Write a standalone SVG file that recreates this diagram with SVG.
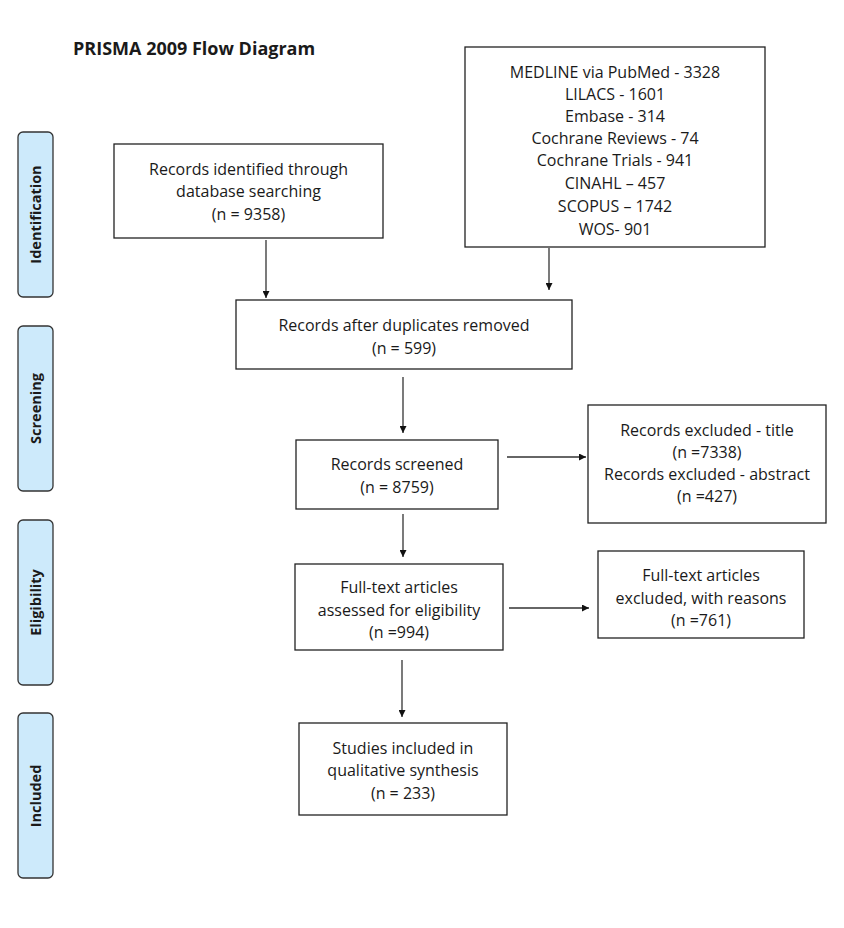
<svg xmlns="http://www.w3.org/2000/svg" width="844" height="928" viewBox="0 0 844 928">
<style>
.box{fill:#fff;stroke:#222;stroke-width:1.3}
.tab{fill:#cdeafb;stroke:#333;stroke-width:1.3}
.t{font-family:"Open Sans","Liberation Sans",sans-serif;font-size:16px;fill:#1a1a1a;text-anchor:middle}
.tt{font-family:"Open Sans","Liberation Sans",sans-serif;font-size:14.5px;font-weight:bold;fill:#1a1a1a;text-anchor:middle}
.title{font-family:"Open Sans","Liberation Sans",sans-serif;font-size:18px;font-weight:bold;fill:#1a1a1a}
.c{stroke:#333;stroke-width:1.3;fill:none;marker-end:url(#ah)}
</style>
<defs>
<marker id="ah" viewBox="0 0 10 10" refX="10" refY="5" markerWidth="7" markerHeight="7" markerUnits="userSpaceOnUse" orient="auto">
<path d="M0,0L10,5L0,10z" fill="#111"/>
</marker>
</defs>
<rect width="844" height="928" fill="#fff"/>
<text class="title" x="73" y="55">PRISMA 2009 Flow Diagram</text>

<g id="tab-identification"><rect class="tab" x="18" y="132" width="35" height="165" rx="5"/><text class="tt" transform="translate(41,214.5) rotate(-90)">Identification</text></g>
<g id="tab-screening"><rect class="tab" x="18" y="326" width="35" height="165" rx="5"/><text class="tt" transform="translate(41,408.5) rotate(-90)">Screening</text></g>
<g id="tab-eligibility"><rect class="tab" x="18" y="520" width="35" height="165" rx="5"/><text class="tt" transform="translate(41,602.5) rotate(-90)">Eligibility</text></g>
<g id="tab-included"><rect class="tab" x="18" y="713" width="35" height="165" rx="5"/><text class="tt" transform="translate(41,796) rotate(-90)">Included</text></g>

<g id="node-identified"><rect class="box" x="114" y="144" width="269" height="94"/>
<text class="t" x="248.5" y="175">Records identified through</text>
<text class="t" x="248.5" y="197">database searching</text>
<text class="t" x="248.5" y="220">(n = 9358)</text></g>

<g id="node-databases"><rect class="box" x="465" y="47" width="300" height="200"/>
<text class="t" x="615" y="78">MEDLINE via PubMed - 3328</text>
<text class="t" x="615" y="100">LILACS - 1601</text>
<text class="t" x="615" y="122">Embase - 314</text>
<text class="t" x="615" y="144">Cochrane Reviews - 74</text>
<text class="t" x="615" y="166">Cochrane Trials - 941</text>
<text class="t" x="615" y="189">CINAHL – 457</text>
<text class="t" x="615" y="212">SCOPUS – 1742</text>
<text class="t" x="615" y="235">WOS- 901</text></g>

<g id="node-duplicates"><rect class="box" x="236" y="300" width="336" height="69"/>
<text class="t" x="404" y="331">Records after duplicates removed</text>
<text class="t" x="404" y="354">(n = 599)</text></g>

<g id="node-screened"><rect class="box" x="296" y="440" width="202" height="69"/>
<text class="t" x="397" y="470">Records screened</text>
<text class="t" x="397" y="493">(n = 8759)</text></g>

<g id="node-excluded"><rect class="box" x="588" y="405" width="238" height="118"/>
<text class="t" x="707" y="436">Records excluded - title</text>
<text class="t" x="707" y="458">(n =7338)</text>
<text class="t" x="707" y="480">Records excluded - abstract</text>
<text class="t" x="707" y="502">(n =427)</text></g>

<g id="node-fulltext"><rect class="box" x="295" y="564" width="208" height="86"/>
<text class="t" x="399" y="593">Full-text articles</text>
<text class="t" x="399" y="616">assessed for eligibility</text>
<text class="t" x="399" y="638">(n =994)</text></g>

<g id="node-fulltext-excluded"><rect class="box" x="598" y="551" width="206" height="87"/>
<text class="t" x="701" y="581">Full-text articles</text>
<text class="t" x="701" y="604">excluded, with reasons</text>
<text class="t" x="701" y="626">(n =761)</text></g>

<g id="node-included"><rect class="box" x="299" y="723" width="208" height="92"/>
<text class="t" x="403" y="754">Studies included in</text>
<text class="t" x="403" y="776">qualitative synthesis</text>
<text class="t" x="403" y="799">(n = 233)</text></g>

<g id="connectors">
<line class="c" x1="266" y1="240" x2="266" y2="298"/>
<line class="c" x1="549" y1="248" x2="549" y2="290"/>
<line class="c" x1="403" y1="377" x2="403" y2="433"/>
<line class="c" x1="507" y1="457" x2="586" y2="457"/>
<line class="c" x1="403" y1="514" x2="403" y2="557"/>
<line class="c" x1="509" y1="608" x2="589" y2="608"/>
<line class="c" x1="402" y1="660" x2="402" y2="717"/>
</g>
</svg>
